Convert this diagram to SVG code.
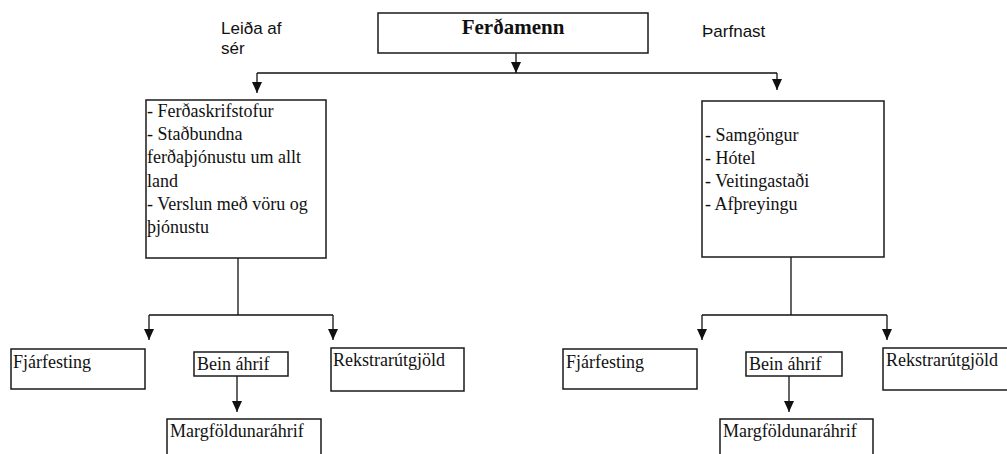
<svg xmlns="http://www.w3.org/2000/svg" width="1007" height="454" viewBox="0 0 1007 454">
<style>
.box{fill:#fff;stroke:#1a1a1a;stroke-width:1.5}
.t{font-family:"Liberation Serif","Times New Roman",serif;font-size:18px;fill:#111}
.s{font-family:"Liberation Sans",Arial,sans-serif;font-size:17px;fill:#111}
.h{font-family:"Liberation Serif","Times New Roman",serif;font-size:21px;font-weight:bold;fill:#111}
.c{fill:none;stroke:#111;stroke-width:1.3}
.a{fill:none;stroke:#111;stroke-width:1.3;marker-end:url(#ah)}
</style>
<defs>
<marker id="ah" markerUnits="userSpaceOnUse" markerWidth="11" markerHeight="10" viewBox="0 0 11 10" refX="11" refY="5" orient="auto">
<path d="M0,0 L11,5 L0,10 Z" fill="#111"/>
</marker>
</defs>
<g id="connectors">
<path class="a" d="M516,53 V73"/>
<path class="c" d="M257,73 H777"/>
<path class="a" d="M257,73 V93"/>
<path class="a" d="M777,73 V90"/>
<path class="c" d="M238,258 V315 M149,315 H333"/>
<path class="a" d="M149,315 V340"/>
<path class="a" d="M333,315 V340"/>
<path class="a" d="M237,376 V412"/>
<path class="c" d="M791,257 V315 M702,315 H887"/>
<path class="a" d="M702,315 V340"/>
<path class="a" d="M887,315 V340"/>
<path class="a" d="M789,376 V412"/>
</g>
<g id="label-leida">
<text class="s" x="221" y="34">Leiða af</text>
<text class="s" x="221" y="54">sér</text>
</g>
<g id="label-tharfnast">
<text class="s" x="702" y="37">Þarfnast</text>
</g>
<g id="ferdamenn">
<rect class="box" x="378" y="13" width="270" height="40"/>
<text class="h" x="513" y="34" text-anchor="middle">Ferðamenn</text>
</g>
<g id="left-main">
<rect class="box" x="146" y="100" width="180" height="158"/>
<text class="t" x="147" y="117">- Ferðaskrifstofur</text>
<text class="t" x="147" y="140">- Staðbundna</text>
<text class="t" x="147" y="163">ferðaþjónustu um allt</text>
<text class="t" x="147" y="187">land</text>
<text class="t" x="147" y="210">- Verslun með vöru og</text>
<text class="t" x="147" y="233">þjónustu</text>
</g>
<g id="right-main">
<rect class="box" x="702" y="101" width="182" height="156"/>
<text class="t" x="705" y="141">- Samgöngur</text>
<text class="t" x="705" y="164">- Hótel</text>
<text class="t" x="705" y="187">- Veitingastaði</text>
<text class="t" x="705" y="210">- Afþreyingu</text>
</g>
<g id="left-fjarfesting">
<rect class="box" x="11" y="349" width="134" height="40"/>
<text class="t" x="13" y="368">Fjárfesting</text>
</g>
<g id="left-bein">
<rect class="box" x="194" y="352" width="94" height="24"/>
<text class="t" x="197" y="370">Bein áhrif</text>
</g>
<g id="left-rekstrar">
<rect class="box" x="331" y="348" width="133" height="43"/>
<text class="t" x="333" y="366">Rekstrarútgjöld</text>
</g>
<g id="left-margfoldun">
<rect class="box" x="167" y="419" width="154" height="45"/>
<text class="t" x="170" y="437">Margföldunaráhrif</text>
</g>
<g id="right-fjarfesting">
<rect class="box" x="563" y="349" width="134" height="40"/>
<text class="t" x="566" y="368">Fjárfesting</text>
</g>
<g id="right-bein">
<rect class="box" x="746" y="352" width="96" height="24"/>
<text class="t" x="749" y="370">Bein áhrif</text>
</g>
<g id="right-rekstrar">
<rect class="box" x="883" y="348" width="130" height="42"/>
<text class="t" x="886" y="366">Rekstrarútgjöld</text>
</g>
<g id="right-margfoldun">
<rect class="box" x="720" y="419" width="153" height="45"/>
<text class="t" x="723" y="437">Margföldunaráhrif</text>
</g>
</svg>
